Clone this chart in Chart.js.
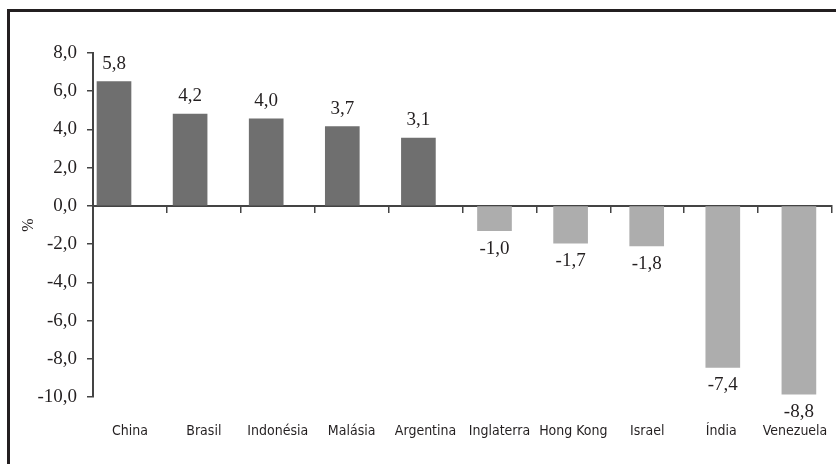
<!DOCTYPE html>
<html>
<head>
<meta charset="utf-8">
<script src="https://cdn.jsdelivr.net/npm/chart.js@4/dist/chart.umd.min.js"></script>
<style>
    html, body { margin: 0; padding: 0; background: #fff; overflow: hidden; }
    #wrap { position: relative; width: 836px; height: 464px; }
    #frame {
        position: absolute; left: 7px; top: 9px; width: 900px; height: 500px;
        border-top: 3px solid #231f20; border-left: 3px solid #231f20;
        pointer-events: none;
    }
    canvas { position: absolute; left: 0; top: 0; }
</style>
</head>
<body>
<div id="wrap">
    <canvas id="chart" width="836" height="464"></canvas>
    <div id="frame"></div>
</div>
<script>
// Countries
const categories = ['China', 'Brasil', 'Indonésia', 'Malásia', 'Argentina', 'Inglaterra', 'Hong Kong', 'Israel', 'Índia', 'Venezuela'];
// Bar heights as drawn against the axis (%)
const barValues = [6.5, 4.8, 4.55, 4.15, 3.55, -1.3, -1.95, -2.1, -8.45, -9.85];
// Printed value labels
const valueLabels = ['5,8', '4,2', '4,0', '3,7', '3,1', '-1,0', '-1,7', '-1,8', '-7,4', '-8,8'];
// Y axis
const yMin = -10;
const yMax = 8;
const yStep = 2;

const colors = {
    positive: '#6f6f6f',
    negative: '#adadad',
    axis: '#444444',
    text: '#231f20'
};

const serif = "'Liberation Serif', 'Times New Roman', serif";
const narrow = "'DejaVu Sans Condensed', 'Liberation Sans Narrow', Roboto, sans-serif";

// Value labels above / below each bar
const valueLabelPlugin = {
    id: 'valueLabels',
    afterDatasetsDraw: function(chart) {
        const ctx = chart.ctx;
        const meta = chart.getDatasetMeta(0);
        ctx.save();
        ctx.font = '19px ' + serif;
        ctx.fillStyle = colors.text;
        ctx.textAlign = 'center';
        ctx.textBaseline = 'middle';
        meta.data.forEach(function(bar, i) {
            const off = barValues[i] >= 0 ? -18 : 18;
            ctx.fillText(valueLabels[i], bar.x, bar.y + off);
        });
        ctx.restore();
    }
};

new Chart(document.getElementById('chart'), {
    type: 'bar',
    data: {
        labels: categories,
        datasets: [{
            data: barValues.map(function(v, i) { return { x: i, y: v }; }),
            backgroundColor: barValues.map(function(v) { return v >= 0 ? colors.positive : colors.negative; }),
            barThickness: 34,
            xAxisID: 'xb',
            yAxisID: 'y'
        }]
    },
    options: {
        responsive: false,
        animation: false,
        events: [],
        layout: { padding: { top: 53, right: 4, left: 0, bottom: 0 } },
        plugins: {
            legend: { display: false },
            tooltip: { enabled: false }
        },
        scales: {
            // hidden scale carrying the bars
            xb: {
                type: 'linear',
                axis: 'x',
                display: false,
                offset: false,
                grace: 0,
                min: -0.276,
                max: 9.435
            },
            // category labels at the bottom
            x: {
                type: 'category',
                position: 'bottom',
                grid: { display: false, drawTicks: false },
                border: { display: false },
                ticks: {
                    autoSkip: false,
                    maxRotation: 0,
                    padding: 26,
                    color: colors.text,
                    font: { family: narrow, size: 14 }
                },
                afterFit: function(s) {
                    s.height = 67;
                    s.paddingLeft = 0;
                    s.paddingRight = 0;
                }
            },
            // zero line with category tick marks
            xt: {
                type: 'category',
                axis: 'x',
                position: { y: 0 },
                grid: {
                    display: true,
                    drawOnChartArea: false,
                    drawTicks: true,
                    tickLength: 6,
                    color: colors.axis,
                    lineWidth: 1.5,
                    offset: true
                },
                border: { display: true, color: colors.axis, width: 2 },
                ticks: { display: false },
                afterFit: function(s) {
                    s.height = 0;
                    s.paddingLeft = 0;
                    s.paddingRight = 0;
                }
            },
            y: {
                type: 'linear',
                position: 'left',
                min: yMin,
                max: yMax,
                grid: {
                    display: true,
                    drawOnChartArea: false,
                    tickLength: 6,
                    color: colors.axis,
                    lineWidth: 1.5
                },
                border: { display: true, color: colors.axis, width: 2 },
                ticks: {
                    stepSize: yStep,
                    padding: 10,
                    color: colors.text,
                    font: { family: serif, size: 19 },
                    callback: function(v) { return v.toFixed(1).replace('.', ','); }
                },
                title: {
                    display: true,
                    text: '%',
                    color: colors.text,
                    font: { family: serif, size: 16 },
                    padding: { top: 19, bottom: 0 }
                },
                afterFit: function(s) { s.width = 93; }
            }
        }
    },
    plugins: [valueLabelPlugin]
});
</script>
</body>
</html>
